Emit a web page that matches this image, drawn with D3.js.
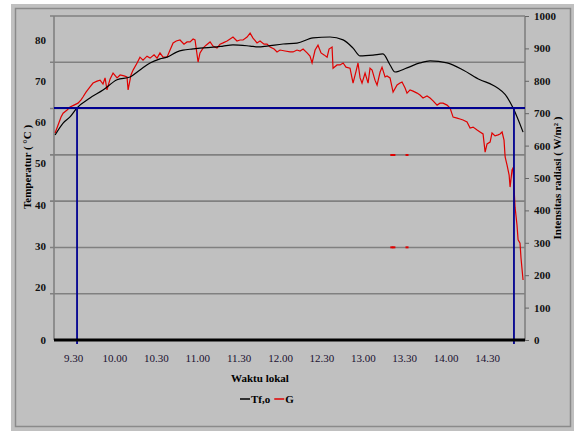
<!DOCTYPE html>
<html><head><meta charset="utf-8">
<script src="https://cdn.jsdelivr.net/npm/d3@7"></script>
<style>body{margin:0;background:#fff}svg{display:block}text{font-family:"Liberation Serif","Times New Roman",serif}</style>
</head><body><svg id="c" width="574" height="431"></svg>
<script>
// ---- data (time in minutes after 09:00) ----
const tfoTime = [17.0,22.8,27.8,32.9,42.3,51.7,61.9,71.3,78.5,85.8,93.0,98.1,105.4,109.7,117.0,122.0,134.3,138.7,145.9,158.3,164.0,170.6,182.2,192.3,203.9,216.2,225.7,232.9,238.0,247.4,254.6,259.7,263.3,272.0,281.4,288.7,301.0,312.6,324.9,334.3,344.5,348.8,356.1];
const tfoValue = [56.9,59.8,61.3,63.5,65.9,67.8,70.3,71.0,72.7,74.4,75.4,75.8,77.1,77.5,77.8,78.0,78.3,78.5,78.8,78.5,78.3,78.5,79.0,79.2,80.5,80.7,80.0,78.0,76.1,76.3,76.6,73.9,72.2,73.2,74.4,74.9,74.4,72.7,70.3,69.0,66.1,63.5,57.6];

const gTime = [17.0,19.1,21.3,22.8,25.7,27.8,30.7,33.6,35.8,37.2,39.4,42.3,44.5,47.4,49.6,51.7,53.2,54.6,56.8,59.0,61.9,64.1,67.0,69.1,69.9,72.0,73.5,76.4,78.5,80.7,83.6,85.8,88.7,90.9,93.0,95.2,98.1,100.3,102.5,104.8,107.5,110.4,112.6,114.8,117.0,118.4,120.6,122.0,124.2,126.4,129.3,131.4,134.3,136.5,138.7,141.6,143.8,145.9,148.8,151.0,153.2,156.1,158.3,160.4,163.3,165.5,168.4,170.6,172.8,175.7,177.8,180.0,183.6,187.3,189.4,192.3,194.5,196.7,199.6,201.7,203.2,205.4,207.5,209.7,211.9,214.1,215.5,217.7,218.4,221.3,223.5,225.7,227.8,230.7,232.9,235.1,236.5,238.0,239.4,241.6,243.8,245.2,246.7,248.8,250.3,252.5,253.9,256.1,257.5,259.7,261.9,264.8,266.9,268.4,270.6,272.0,274.2,276.4,279.3,281.4,283.6,286.5,288.7,290.9,293.8,295.9,298.1,301.0,303.2,305.4,308.3,310.4,312.6,315.5,317.7,319.9,322.8,324.9,327.1,328.6,330.0,332.2,333.6,335.8,338.0,339.4,340.9,342.3,343.1,344.5,346.0,346.7,348.1,348.8,350.3,351.7,352.5,353.9,354.6,356.1];
const gValue = [639,663,688,700,710,719,725,731,741,750,765,781,793,799,802,790,809,772,805,824,809,818,815,812,772,818,833,855,873,864,876,870,880,870,886,873,873,895,917,923,926,913,920,920,929,926,858,886,901,910,920,907,901,913,917,923,929,935,923,926,926,935,947,932,917,923,913,913,904,898,889,895,892,889,889,895,892,898,886,876,855,895,910,886,880,873,898,904,839,849,849,855,842,839,793,830,855,809,793,824,793,839,833,802,787,827,842,812,815,809,765,787,793,796,778,762,772,768,762,756,747,753,747,738,725,731,731,725,716,688,685,682,679,673,654,657,648,642,636,580,605,611,639,630,633,636,642,617,565,540,509,472,525,531,410,355,309,299,253,185];

const gOutTime = [261.0,262.5,272.0,261.0,262.5,272.0];
const gOutValue = [571,571,571,286,286,286];

const threshG = 716;
const threshTimes = [32.9, 349.5];

const xTickTimes = [30,60,90,120,150,180,210,240,270,300,330];
const xTickLabels = ["9.30","10.00","10.30","11.00","11.30","12.00","12.30","13.00","13.30","14.00","14.30"];
const leftTicks = [0,20,30,40,50,60,70,80];
const rightTicks = [0,100,200,300,400,500,600,700,800,900,1000];
const gridValues = [1000/7,2000/7,3000/7,4000/7,5000/7,6000/7,1000];

const seriesNames = ["Tf,o","G"];
const seriesColors = ["#000000","#e00000"];

// ---- layout ----
const svg = d3.select("#c");
const L = 54, R = 525, T = 16, B = 340;

svg.append("rect").attr("x",11).attr("y",4).attr("width",563).attr("height",427).attr("fill","#c0c0c0");
svg.append("rect").attr("x",15.5).attr("y",8.5).attr("width",555).attr("height",418)
  .attr("fill","none").attr("stroke","#8a8a8a").attr("stroke-width",1.5);

const x = d3.scaleLinear().domain([16.2,357.5]).range([L,R]);
const yL = d3.scaleLinear().domain([7.1,85.8]).range([B,T]).clamp(true);
const yR = d3.scaleLinear().domain([0,1000]).range([B,T]);

// gridlines
svg.append("g").selectAll("line").data(gridValues).join("line")
  .attr("x1",L-4).attr("x2",R).attr("y1",d=>yR(d)).attr("y2",d=>yR(d))
  .attr("stroke","#808080").attr("stroke-width",1.6);
// left and right axis lines
svg.append("line").attr("x1",L).attr("x2",L).attr("y1",T).attr("y2",B).attr("stroke","#808080").attr("stroke-width",1.6);
svg.append("line").attr("x1",R).attr("x2",R).attr("y1",T).attr("y2",B).attr("stroke","#808080").attr("stroke-width",1.6);

// right axis
const rAxis = svg.append("g").attr("transform",`translate(${R},0)`)
  .call(d3.axisRight(yR).tickValues(rightTicks).tickSize(4).tickPadding(5).tickFormat(d3.format("d")));
rAxis.select(".domain").remove();
rAxis.selectAll("line").attr("stroke","#666");
rAxis.selectAll("text").attr("font-size",11).attr("font-weight","bold").attr("fill","#111")
  .attr("font-family","'Liberation Serif',serif");

// left axis labels
const lAxis = svg.append("g").attr("transform",`translate(${L-8},0)`)
  .call(d3.axisLeft(yL).tickValues(leftTicks).tickSize(0).tickPadding(0).tickFormat(d3.format("d")));
lAxis.select(".domain").remove();
lAxis.selectAll("text").attr("font-size",11).attr("font-weight","bold").attr("fill","#111")
  .attr("font-family","'Liberation Serif',serif");

// x axis labels
const xAxis = svg.append("g").attr("transform",`translate(0,${B})`)
  .call(d3.axisBottom(x).tickValues(xTickTimes).tickSize(0).tickPadding(14)
    .tickFormat((d,i)=>xTickLabels[i]));
xAxis.select(".domain").remove();
xAxis.selectAll("text").attr("font-size",11).attr("fill","#1a1030")
  .attr("font-family","'Liberation Serif',serif");

// lines
const tfo = tfoTime.map((t,i)=>[t,tfoValue[i]]);
const g = gTime.map((t,i)=>[t,gValue[i]]);
svg.append("path").datum(g).attr("fill","none").attr("stroke",seriesColors[1]).attr("stroke-width",1.2)
  .attr("d",d3.line().x(d=>x(d[0])).y(d=>yR(d[1])));
svg.append("path").datum(tfo).attr("fill","none").attr("stroke",seriesColors[0]).attr("stroke-width",1.2)
  .attr("d",d3.line().x(d=>x(d[0])).y(d=>yL(d[1])).curve(d3.curveMonotoneX));
svg.append("g").selectAll("rect").data(gOutTime).join("rect")
  .attr("x",d=>x(d)-1.5).attr("y",(d,i)=>yR(gOutValue[i])-1).attr("width",3).attr("height",2)
  .attr("fill",seriesColors[1]);

// threshold (blue)
svg.append("line").attr("x1",L).attr("x2",R).attr("y1",yR(threshG)).attr("y2",yR(threshG))
  .attr("stroke","#000090").attr("stroke-width",1.8);
svg.append("g").selectAll("line").data(threshTimes).join("line")
  .attr("x1",d=>x(d)).attr("x2",d=>x(d)).attr("y1",yR(threshG)).attr("y2",B+4)
  .attr("stroke","#000090").attr("stroke-width",1.8);

// bottom axis thick
svg.append("line").attr("x1",L).attr("x2",R).attr("y1",B).attr("y2",B).attr("stroke","#000").attr("stroke-width",3);

// titles
svg.append("text").attr("transform","translate(31,167) rotate(-90)").attr("text-anchor","middle")
  .attr("font-size",11).attr("font-weight","bold").text("Temperatur ( °C )");
svg.append("text").attr("transform","translate(561,178) rotate(-90)").attr("text-anchor","middle")
  .attr("font-size",11).attr("font-weight","bold").text("Intensitas radiasi ( W/m² )");
svg.append("text").attr("x",260).attr("y",382).attr("text-anchor","middle")
  .attr("font-size",11).attr("font-weight","bold").text("Waktu lokal");

// legend
const lg = svg.append("g").attr("transform","translate(240,399)");
let lx = 0;
seriesNames.forEach((n,i)=>{
  lg.append("line").attr("x1",lx).attr("x2",lx+10).attr("y1",0).attr("y2",0).attr("stroke",seriesColors[i]).attr("stroke-width",1.5);
  const t = lg.append("text").attr("x",lx+11).attr("y",4).attr("font-size",11).attr("font-weight","bold").text(n);
  lx += 11 + t.node().getComputedTextLength() + 4;
});
</script></body></html>
